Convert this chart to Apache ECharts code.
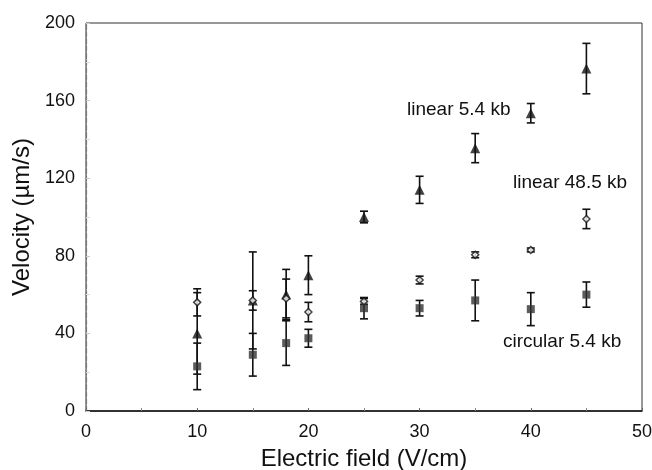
<!DOCTYPE html>
<html><head><meta charset="utf-8">
<script src="https://cdn.jsdelivr.net/npm/echarts@6/dist/echarts.min.js"></script>
<style>html,body{margin:0;padding:0;background:#fff}#c{width:652px;height:470px}</style>
</head><body><div id="c"></div>
<script>
var fieldX = [10, 15, 18, 20, 25, 30, 35, 40, 45];
var linear54 = [40, 57, 60, 70, 100, 114, 135.5, 153.5, 176.5];
var linear54Err = [21, 25, 13, 10, 3, 7, 7.5, 5, 13];
var linear485 = [56, 57, 58, 51, 56.5, 67.5, 80.5, 83, 99];
var linear485Err = [7, 5, 10, 5, 1.5, 2, 1.5, 1, 5];
var circular54 = [23, 29, 35, 37.5, 53, 53, 57, 52.5, 60];
var circular54Err = [12, 11, 11.5, 4.6, 5.5, 4, 10.5, 8.5, 6.5];
var yTicks = [0, 40, 80, 120, 160, 200];
var xTicks = [0, 10, 20, 30, 40, 50];
var seriesLabels = ['linear 5.4 kb', 'linear 48.5 kb', 'circular 5.4 kb'];

function pts(v) { return fieldX.map(function (x, i) { return [x, v[i]]; }); }
function errs(v, e) { return fieldX.map(function (x, i) { return [x, v[i] - e[i], v[i] + e[i]]; }); }
function errorSeries(v, e) {
  return {
    type: 'custom', data: errs(v, e), z: 1,
    encode: { x: 0, y: [1, 2] },
    renderItem: function (params, api) {
      var x = api.value(0);
      var lo = api.coord([x, api.value(1)]);
      var hi = api.coord([x, api.value(2)]);
      var w = 4;
      var st = { stroke: '#111', lineWidth: 1.6 };
      return { type: 'group', children: [
        { type: 'line', shape: { x1: lo[0], y1: lo[1], x2: hi[0], y2: hi[1] }, style: st },
        { type: 'line', shape: { x1: lo[0] - w, y1: lo[1], x2: lo[0] + w, y2: lo[1] }, style: st },
        { type: 'line', shape: { x1: hi[0] - w, y1: hi[1], x2: hi[0] + w, y2: hi[1] }, style: st }
      ] };
    }
  };
}
var font = 'Liberation Sans, Arial, sans-serif';
var chart = echarts.init(document.getElementById('c'));
chart.setOption({
  animation: false,
  grid: { left: 86, right: 10, top: 23, bottom: 59, show: true, borderColor: '#333', borderWidth: 1,
    containLabel: false, outerBoundsMode: 'none' },
  xAxis: {
    type: 'value', min: 0, max: 50, interval: 10,
    name: 'Electric field (V/cm)', nameLocation: 'middle', nameGap: 36,
    nameTextStyle: { fontFamily: font, fontSize: 24, color: '#111' },
    axisLine: { lineStyle: { color: '#111', width: 1.5 } },
    axisTick: { show: true, inside: true, length: 3, lineStyle: { color: '#666' } },
    minorTick: { show: true, splitNumber: 2, length: 3, lineStyle: { color: '#888' } },
    splitLine: { show: false },
    axisLabel: { fontFamily: font, fontSize: 18, color: '#111', margin: 12,
      formatter: function (v) { return xTicks.indexOf(v) >= 0 ? String(v) : ''; } }
  },
  yAxis: {
    type: 'value', min: 0, max: 200, interval: 40,
    name: 'Velocity (\u00b5m/s)', nameLocation: 'middle', nameGap: 49,
    nameTextStyle: { fontFamily: font, fontSize: 24, color: '#111' },
    axisLine: { show: true, lineStyle: { color: '#777', width: 1.2, type: 'dashed' } },
    axisTick: { show: true, inside: true, length: 4, lineStyle: { color: '#ccc' } },
    minorTick: { show: true, splitNumber: 2, length: 4, lineStyle: { color: '#ddd' } },
    splitLine: { show: false },
    axisLabel: { fontFamily: font, fontSize: 18, color: '#111', margin: 11,
      formatter: function (v) { return yTicks.indexOf(v) >= 0 ? String(v) : ''; } }
  },
  series: [
    errorSeries(linear54, linear54Err),
    errorSeries(linear485, linear485Err),
    errorSeries(circular54, circular54Err),
    { type: 'scatter', data: pts(linear54), symbol: 'triangle', symbolSize: 10, z: 3,
      itemStyle: { color: '#111' } },
    { type: 'scatter', data: pts(linear485), symbol: 'diamond', symbolSize: 7, z: 3,
      itemStyle: { color: '#fff', borderColor: '#111', borderWidth: 1.5 } },
    { type: 'scatter', data: pts(circular54), symbol: 'rect', symbolSize: 8, z: 3,
      itemStyle: { color: '#333' } }
  ],
  graphic: [
    { type: 'text', left: 407, top: 100, style: { text: seriesLabels[0], font: '19px ' + font, fill: '#111' } },
    { type: 'text', left: 513, top: 173, style: { text: seriesLabels[1], font: '19px ' + font, fill: '#111' } },
    { type: 'text', left: 503, top: 332, style: { text: seriesLabels[2], font: '19px ' + font, fill: '#111' } }
  ]
});
</script></body></html>
